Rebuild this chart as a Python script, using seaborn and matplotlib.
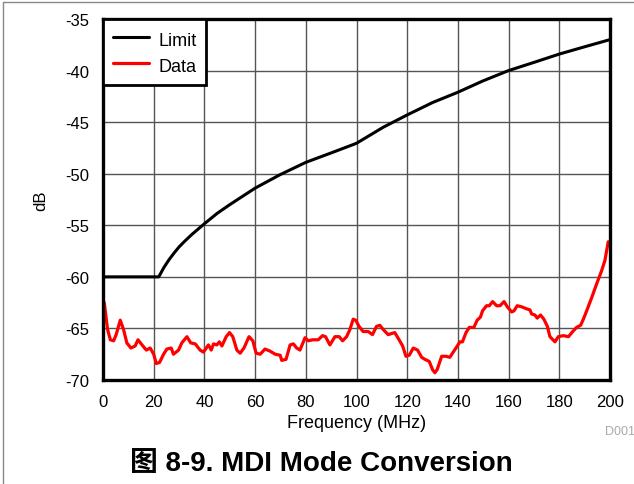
import numpy as np
import pandas as pd
import seaborn as sns
import matplotlib.pyplot as plt
from matplotlib.lines import Line2D

# Limit curve (MHz, dB)
limit_f = [0, 22, 24, 26, 28, 30, 32, 35, 40, 45, 50, 55, 60, 69.8, 80, 90.9, 100,
           110.5, 120, 130, 140, 149.9, 160, 170.1, 180, 189.9, 200]
limit_db = [-60, -60, -59.1, -58.35, -57.7, -57.1, -56.6, -55.9, -54.85, -53.85, -53.0, -52.2, -51.4,
            -50.1, -48.9, -47.9, -47.05, -45.5, -44.3, -43.1, -42.1, -41.0, -40.0, -39.2, -38.4,
            -37.7, -37.0]

# measured data (MHz, dB)
data_f = [0.5, 1.8, 2.9, 4.2, 5.2, 6.8, 8.1, 9.4, 11, 12.7, 13.8, 15.4, 17.1, 18.6, 20, 21, 22.3,
          23.9, 25.2, 26.9, 27.8, 29.8, 31.1, 33.1, 34.6, 36.4, 38.3, 39.6, 41.6, 42.7, 43.6, 44.9,
          45.9, 46.9, 48.6, 49.9, 51.2, 52.8, 54.1, 55.6, 57.6, 59.1, 60.4, 62, 63.9, 65.9, 67.9,
          69.9, 70.5, 72.2, 73.8, 75.1, 76.4, 77.7, 79.7, 81, 82.7, 84.9, 86.6, 87.8, 89.5, 91.5,
          93.2, 94.5, 96.1, 97.4, 98.7, 99.7, 101, 102.6, 104.6, 106.3, 107.9, 109.2, 110.5, 112.5,
          113.8, 115.1, 116.8, 118.2, 119.5, 120.8, 122.4, 124.1, 125.7, 127, 128.7, 130, 130.9,
          131.8, 133.6, 135.3, 136.8, 137.9, 139.5, 140.8, 141.8, 143.2, 144.5, 146.3, 147.6, 148.9,
          149.7, 151.3, 152.4, 153.7, 155.3, 156.6, 158.2, 159.5, 161.2, 162.1, 163.4, 165.1, 167.1,
          168.4, 169.1, 170.4, 171.3, 172.6, 173.9, 175.3, 176.3, 178.3, 179.6, 181.6, 183.6, 185.3,
          186.8, 188.4, 189.5, 191.1, 192.8, 194.7, 196.7, 198, 199.3]
data_db = [-62.5, -65.1, -66.1, -66.2, -65.6, -64.2, -65.1, -66.4, -66.9, -66.7, -66.1, -66.6, -67.1,
           -66.9, -67.5, -68.4, -68.3, -67.5, -67.0, -66.9, -67.5, -67.1, -66.4, -65.8, -66.4, -66.5,
           -67.1, -67.3, -66.6, -67.1, -66.5, -66.6, -66.3, -66.7, -65.8, -65.4, -65.8, -67.1, -67.4,
           -66.9, -65.8, -66.2, -67.4, -67.5, -67.0, -67.2, -67.5, -67.6, -68.1, -68.0, -66.6, -66.5,
           -66.9, -67.1, -65.9, -66.2, -66.1, -66.1, -65.7, -65.8, -66.6, -65.8, -65.8, -66.2, -65.8,
           -65.1, -64.1, -64.2, -64.8, -65.3, -65.3, -65.6, -64.8, -64.7, -65.1, -65.6, -65.5, -65.4,
           -66.1, -66.7, -67.7, -67.6, -66.9, -67.1, -67.8, -68.0, -68.2, -69.0, -69.3, -69.0, -67.7,
           -67.7, -67.8, -67.4, -66.8, -66.3, -66.3, -65.4, -64.9, -64.9, -64.2, -63.9, -63.3, -62.8,
           -62.8, -62.4, -62.8, -62.8, -62.4, -62.9, -63.4, -63.3, -62.8, -62.9, -63.1, -63.2, -63.6,
           -63.7, -64.0, -63.7, -64.1, -64.8, -65.8, -66.3, -65.8, -65.7, -65.8, -65.3, -64.9, -64.7,
           -64.1, -63.1, -62.0, -60.7, -59.4, -58.4, -56.6]

x_ticks = list(range(0, 201, 20))
y_ticks = list(range(-70, -34, 5))

sns.set_style("white")
plt.rcParams['font.family'] = ['Liberation Sans', 'Noto Sans CJK SC', 'DejaVu Sans']
plt.rcParams['axes.unicode_minus'] = False
plt.rcParams['text.color'] = 'black'
plt.rcParams['axes.labelcolor'] = 'black'
plt.rcParams['xtick.color'] = 'black'
plt.rcParams['ytick.color'] = 'black'

limit_df = pd.DataFrame({"f": limit_f, "dB": limit_db})
data_df = pd.DataFrame({"f": data_f, "dB": data_db})

fig = plt.figure(figsize=(6.34, 4.85), dpi=100)
ax = fig.add_axes([103 / 634, 1 - 381 / 485, 507 / 634, 361 / 485])

sns.lineplot(data=limit_df, x="f", y="dB", color="black", lw=2.2, label="Limit", ax=ax)
sns.lineplot(data=data_df, x="f", y="dB", color="red", lw=2.3, label="Data", ax=ax)

ax.set_xlim(0, 200)
ax.set_ylim(-70, -35)
ax.set_xticks(x_ticks)
ax.set_yticks(y_ticks)
ax.grid(True, color="#555555", lw=1.0)
ax.tick_params(axis="both", labelsize=12, length=3, width=1.2, color="black", pad=7)
for s in ax.spines.values():
    s.set_linewidth(2.4)
    s.set_color("black")

ax.set_xlabel("Frequency (MHz)", fontsize=13, labelpad=4)
ax.set_ylabel("dB", fontsize=12, labelpad=12)

leg = ax.legend(loc="upper left", borderaxespad=0, fancybox=False, framealpha=1,
                edgecolor="black", fontsize=13, handlelength=2.0, handletextpad=0.5,
                handleheight=1.3, borderpad=0.55, labelspacing=0.35)
leg.get_frame().set_linewidth(2)

fig.text(0.5 + 4 / 634, 1 - 464 / 485, "图 8-9. MDI Mode Conversion", ha="center", va="center",
         fontsize=20, fontweight="bold")
fig.text(605 / 634, 1 - 432 / 485, "D001", ha="left", va="center", fontsize=9, color="#aaaaaa")

# page border lines (top and left)
fig.add_artist(Line2D([3 / 634, 1], [1 - 3 / 485, 1 - 3 / 485], color="#888888", lw=1))
fig.add_artist(Line2D([3 / 634, 3 / 634], [0, 1 - 3 / 485], color="#888888", lw=1))

fig.savefig("out.png", dpi=100)
